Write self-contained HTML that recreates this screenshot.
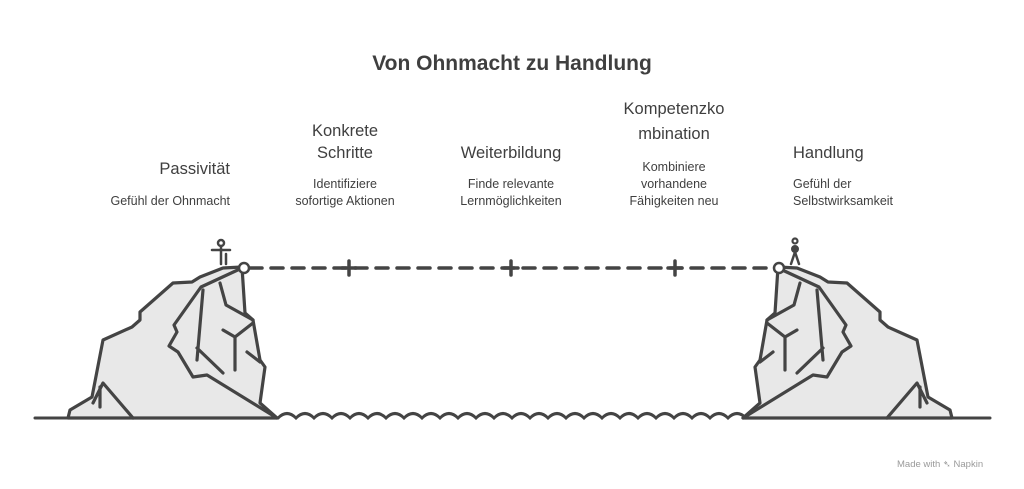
<!DOCTYPE html>
<html><head><meta charset="utf-8"><style>
body{margin:0;background:#fff;}
svg{display:block}
text{font-family:"Liberation Sans",sans-serif;fill:#3f3f3f}
</style></head><body>
<svg width="1024" height="489" viewBox="0 0 1024 489" xmlns="http://www.w3.org/2000/svg">
<text x="512" y="70" text-anchor="middle" font-size="21" font-weight="bold">Von Ohnmacht zu Handlung</text>

<g font-size="16.5">
<text x="230" y="174" text-anchor="end">Passivität</text>
<text x="345" y="136" text-anchor="middle">Konkrete</text>
<text x="345" y="158" text-anchor="middle">Schritte</text>
<text x="511" y="158" text-anchor="middle">Weiterbildung</text>
<text x="674" y="114" text-anchor="middle">Kompetenzko</text>
<text x="674" y="139" text-anchor="middle">mbination</text>
<text x="793" y="158">Handlung</text>
</g>
<g font-size="12.5">
<text x="230" y="205" text-anchor="end">Gefühl der Ohnmacht</text>
<text x="345" y="188" text-anchor="middle">Identifiziere</text>
<text x="345" y="205" text-anchor="middle">sofortige Aktionen</text>
<text x="511" y="188" text-anchor="middle">Finde relevante</text>
<text x="511" y="205" text-anchor="middle">Lernmöglichkeiten</text>
<text x="674" y="171" text-anchor="middle">Kombiniere</text>
<text x="674" y="188" text-anchor="middle">vorhandene</text>
<text x="674" y="205" text-anchor="middle">Fähigkeiten neu</text>
<text x="793" y="188">Gefühl der</text>
<text x="793" y="205">Selbstwirksamkeit</text>
</g>
<text x="897" y="467" font-size="9.5" style="fill:#9a9a9a">Made with ➴ Napkin</text>

<defs>
<g id="cliff" stroke="#444" stroke-width="3.2" fill="none" stroke-linejoin="round" stroke-linecap="round">
<path d="M68,418 L70,410 L92,397 L103,340 L132,327 L140,320 L140,312 L173,283 L192,282 L200,277 L223,268 L242,267 L245,313 L253,320 L260,360 L265,367 L260,403 L277,418 Z" fill="#e8e8e8"/>
<path d="M242,268 L201,287 L174,325 L177,332 L169,346 L178,352 L193,377 L207,375 L277,418"/>
<path d="M203,290 L197,360 M197,348 L223,373 M223,330 L235,337 L253,323 M235,337 L235,370 M247,352 L260,362 M93,403 L103,383 L133,418 M100,387 L100,407 M220,283 L226,305 L253,320"/>
</g>
</defs>
<use href="#cliff"/>
<use href="#cliff" transform="translate(1020,0) scale(-1,1)"/>

<g stroke="#444" stroke-width="3" fill="none" stroke-linecap="round">
<line x1="35" y1="418" x2="278" y2="418"/>
<line x1="745" y1="418" x2="990" y2="418"/>
<path d="M278,418 q9,-9 18,0 q9,-9 18,0 q9,-9 18,0 q9,-9 18,0 q9,-9 18,0 q9,-9 18,0 q9,-9 18,0 q9,-9 18,0 q9,-9 18,0 q9,-9 18,0 q9,-9 18,0 q9,-9 18,0 q9,-9 18,0 q9,-9 18,0 q9,-9 18,0 q9,-9 18,0 q9,-9 18,0 q9,-9 18,0 q9,-9 18,0 q9,-9 18,0 q9,-9 18,0 q9,-9 18,0 q9,-9 18,0 q9,-9 18,0 q9,-9 18,0 q9,-9 18,0"/>
<line x1="250" y1="268" x2="772" y2="268" stroke-dasharray="12,9" stroke-width="3.5"/>
<circle cx="244" cy="268" r="5" stroke-width="2.5" fill="#fff"/>
<circle cx="779" cy="268" r="5" stroke-width="2.5" fill="#fff"/>
<path d="M349,261 v14 M342,268 h14 M511,261 v14 M504,268 h14 M675,261 v14 M668,268 h14" stroke-width="3.5"/>
<circle cx="221" cy="243" r="3" stroke-width="2.5"/>
<path d="M212,250 h18 M221,246 v18 M226,254 v10" stroke-width="2.5"/>
<circle cx="795" cy="241" r="2.5" stroke-width="2.2"/>
<circle cx="795" cy="249" r="3.5" fill="#444" stroke-width="1"/>
<path d="M795,252 L791,264 M795,252 L799,264" stroke-width="2.5"/>
</g>
</svg>
</body></html>
